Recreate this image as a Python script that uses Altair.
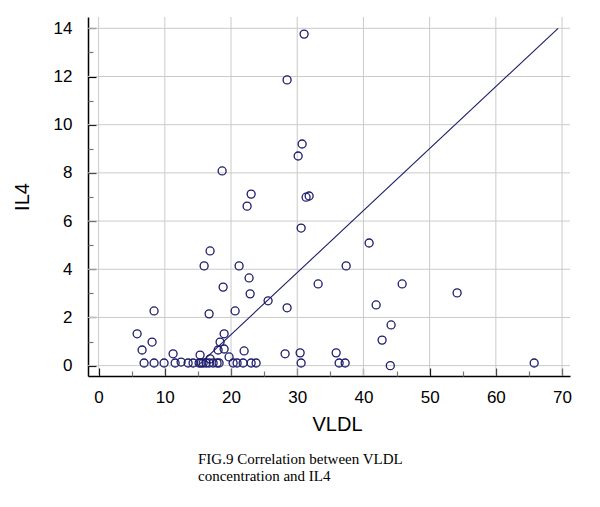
import altair as alt
import pandas as pd

# --- data ---
vldl = [31.04, 28.47, 30.74, 30.14, 18.66, 23.04, 22.43, 31.34, 31.80, 30.59,
        16.84, 15.94, 21.22, 22.73, 18.81, 22.89, 33.16, 25.60, 28.47, 8.38,
        16.69, 20.62, 40.86, 37.39, 45.85, 54.15, 41.92, 44.18, 42.82, 28.17,
        30.44, 35.88, 5.82, 6.57, 8.08, 11.25, 15.33, 16.84, 18.05, 18.35,
        18.96, 18.96, 19.71, 21.98, 12.46,
        6.87, 8.38, 9.89, 11.56, 13.52, 14.27, 15.18, 15.48, 15.79, 16.24,
        16.69, 17.30, 17.90, 18.20, 20.32, 20.92, 21.83, 23.04, 23.79, 30.59,
        36.33, 37.24, 44.06, 65.79]
il4 = [13.76, 11.86, 9.20, 8.70, 8.08, 7.12, 6.62, 6.99, 7.04, 5.71,
       4.76, 4.14, 4.14, 3.64, 3.26, 2.98, 3.39, 2.69, 2.40, 2.27,
       2.15, 2.27, 5.09, 4.14, 3.39, 3.02, 2.52, 1.69, 1.06, 0.49,
       0.53, 0.53, 1.32, 0.65, 0.98, 0.49, 0.44, 0.28, 0.65, 0.98,
       0.69, 1.32, 0.36, 0.61, 0.15,
       0.11, 0.11, 0.11, 0.11, 0.11, 0.11, 0.11, 0.11, 0.11, 0.11,
       0.11, 0.11, 0.11, 0.11, 0.11, 0.11, 0.11, 0.11, 0.11, 0.11,
       0.11, 0.11, 0.0, 0.11]

line_vldl = [15.0, 69.4]
line_il4 = [0.0, 14.0]

x_major = [0, 10, 20, 30, 40, 50, 60, 70]
x_minor = [5, 15, 25, 35, 45, 55, 65]
y_major = [0, 2, 4, 6, 8, 10, 12, 14]
y_minor = [1, 3, 5, 7, 9, 11, 13]

caption = ["FIG.9 Correlation between VLDL", "concentration and IL4"]

df = pd.DataFrame({"VLDL": vldl, "IL4": il4})
line_df = pd.DataFrame({"VLDL": line_vldl, "IL4": line_il4})
xgrid_df = pd.DataFrame({"VLDL": x_major})
ygrid_df = pd.DataFrame({"IL4": y_major})

NAVY = "#1c1c6b"
GRID = "#cacaca"
xscale = alt.Scale(domain=[-1.6, 71.2], nice=False, zero=False)
yscale = alt.Scale(domain=[-0.43, 14.47], nice=False, zero=False)

sans = "Liberation Sans"

main_x = alt.Axis(values=x_major, title="VLDL", orient="bottom", grid=False,
                  domainColor="black", domainWidth=1.5,
                  ticks=False, tickSize=0, labelPadding=13, labelFont=sans,
                  labelFontSize=17, labelColor="black", titleFont=sans,
                  titleFontSize=20, titleFontWeight="normal", titleColor="black",
                  titlePadding=9, titleX=249)
main_y = alt.Axis(values=y_major, title="IL4", orient="left", grid=False,
                  domainColor="black", domainWidth=1.5,
                  ticks=False, tickSize=0, labelPadding=16, labelFont=sans,
                  labelFontSize=17, labelColor="black", titleFont=sans,
                  titleFontSize=20, titleFontWeight="normal", titleColor="black",
                  titlePadding=21)


def tick_axis(values, orient, size, color):
    return alt.Axis(values=values, orient=orient, offset=-size, tickSize=size,
                    tickColor=color, tickWidth=1.2, labels=False, domain=False,
                    grid=False, title=None)


xgrid = alt.Chart(xgrid_df).mark_rule(color=GRID, strokeWidth=1, opacity=1).encode(
    x=alt.X("VLDL:Q", scale=xscale, axis=None),
    y=alt.value(0),
    y2=alt.value(359),
)
ygrid = alt.Chart(ygrid_df).mark_rule(color=GRID, strokeWidth=1, opacity=1).encode(
    y=alt.Y("IL4:Q", scale=yscale, axis=None),
    x=alt.value(0),
    x2=alt.value(482),
)

points = alt.Chart(df).mark_point(shape="circle", filled=False, size=64,
                                  stroke=NAVY, strokeWidth=1.3, opacity=1).encode(
    x=alt.X("VLDL:Q", scale=xscale, axis=main_x),
    y=alt.Y("IL4:Q", scale=yscale, axis=main_y),
)

line = alt.Chart(line_df).mark_line(color=NAVY, strokeWidth=1.1).encode(
    x=alt.X("VLDL:Q", scale=xscale, axis=None),
    y=alt.Y("IL4:Q", scale=yscale, axis=None),
)

major_ticks = alt.Chart(df).mark_point(opacity=0).encode(
    x=alt.X("VLDL:Q", scale=xscale, axis=tick_axis(x_major, "bottom", 8, "black")),
    y=alt.Y("IL4:Q", scale=yscale, axis=tick_axis(y_major, "left", 8, "black")),
)

minor_ticks = alt.Chart(df).mark_point(opacity=0).encode(
    x=alt.X("VLDL:Q", scale=xscale, axis=tick_axis(x_minor, "bottom", 5, "#777777")),
    y=alt.Y("IL4:Q", scale=yscale, axis=tick_axis(y_minor, "left", 5, "#777777")),
)

chart = alt.layer(xgrid, ygrid, line, points, major_ticks, minor_ticks).resolve_axis(
    x="independent", y="independent"
).properties(
    width=482,
    height=359,
    autosize=alt.AutoSizeParams(type="none"),
    padding={"left": 80, "top": 9, "right": 14, "bottom": 116},
    background="white",
    title=alt.TitleParams(text=caption, orient="bottom", anchor="start",
                          frame="group", dx=110, offset=18,
                          font="Liberation Serif", fontSize=15,
                          fontWeight="normal", color="black", lineHeight=17),
).configure_view(stroke=None)

chart.save("out.html", embed_options={"renderer": "svg", "actions": False})
